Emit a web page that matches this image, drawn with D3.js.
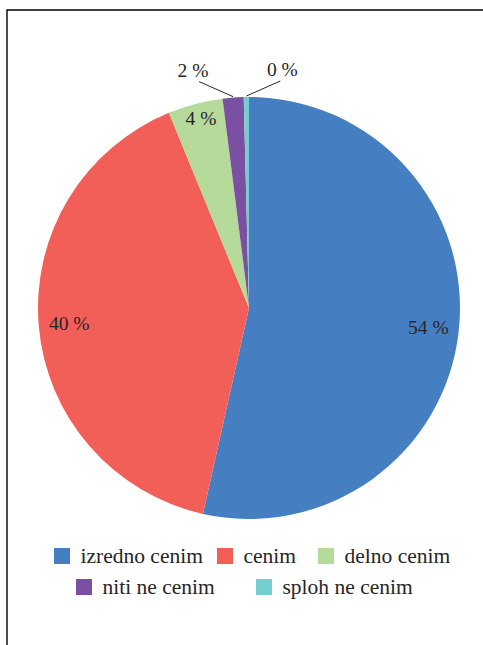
<!DOCTYPE html>
<html>
<head>
<meta charset="utf-8">
<script src="https://cdn.jsdelivr.net/npm/d3@7"></script>
<style>
  html, body { margin: 0; padding: 0; background: #fff; }
  svg { display: block; }
</style>
</head>
<body>
<script>
// ---- data ----
const categories = ["izredno cenim", "cenim", "delno cenim", "niti ne cenim", "sploh ne cenim"];
const values = [53.5, 40.3, 4.2, 1.6, 0.4];
const colors = ["#457FC2", "#F15F58", "#B5DA9A", "#7B4FA1", "#74CDCE"];

// ---- layout ----
const W = 483, H = 645;
const cx = 249, cy = 308, R = 211;
const FONT = '"Liberation Serif"';

const svg = d3.select("body").append("svg").attr("width", W).attr("height", H);

// frame (only top & left edges visible)
svg.append("path")
  .attr("d", `M7,${H} L7,10 L${W},10`)
  .attr("fill", "none").attr("stroke", "#000").attr("stroke-width", 1.4);

const pie = d3.pie().sort(null).value(d => d)(values);
const arc = d3.arc().innerRadius(0).outerRadius(R);

const g = svg.append("g").attr("transform", `translate(${cx},${cy})`);
g.selectAll("path.slice").data(pie).join("path")
  .attr("class", "slice")
  .attr("d", arc)
  .attr("fill", (d, i) => colors[i]);

const fmt = v => `${Math.round(v)} %`;
const pt = (a, r) => [r * Math.sin(a), -r * Math.cos(a)];

function label(x, y, t, central) {
  const el = g.append("text").attr("x", x).attr("y", y)
    .attr("text-anchor", "middle")
    .style("font-family", FONT)
    .attr("fill", "#262626")
    .attr("font-size", 19.5).text(t);
  if (central) el.attr("dominant-baseline", "central");
}

pie.forEach((d, i) => {
  const mid = (d.startAngle + d.endAngle) / 2;
  if (i < 2) {
    const [x, y] = pt(mid, R * 0.855);
    label(x, y, fmt(values[i]), true);
  } else if (i === 2) {
    const [x, y] = pt(mid, R * 0.93);
    label(x + 2, y, fmt(values[i]), true);
  } else {
    const [x0, y0] = pt(mid, R + 1);
    const dir = i === 3 ? -1 : 1;
    const x1 = x0 + dir * 34, y1 = y0 - 15;
    g.append("line").attr("x1", x0).attr("y1", y0).attr("x2", x1).attr("y2", y1)
      .attr("stroke", "#262626").attr("stroke-width", 1);
    label(x1 + (dir < 0 ? -6 : 2), y1 - 5, fmt(values[i]), false);
  }
});

// ---- legend ----
const legendPos = [[54, 556], [217, 556], [318, 556], [76, 587], [256, 587]];
const lg = svg.append("g");
categories.forEach((c, i) => {
  const [x, y] = legendPos[i];
  lg.append("rect").attr("x", x).attr("y", y - 8).attr("width", 16).attr("height", 16)
    .attr("fill", colors[i]);
  lg.append("text").attr("x", x + 26.5).attr("y", y + 7)
    .style("font-family", FONT)
    .attr("fill", "#262626")
    .attr("font-size", 21.5).text(c);
});
</script>
</body>
</html>
